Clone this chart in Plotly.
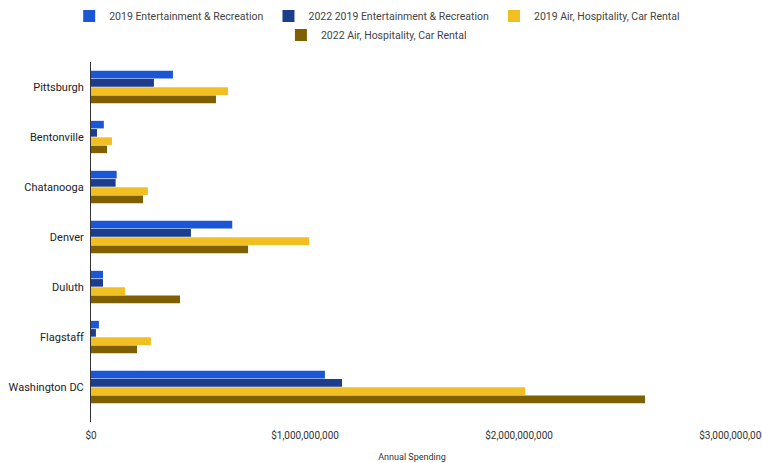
import plotly.graph_objects as go

cities = ["Pittsburgh", "Bentonville", "Chatanooga", "Denver", "Duluth", "Flagstaff", "Washington DC"]

ent_2019 = [383e6, 60e6, 120e6, 660e6, 56e6, 37e6, 1093e6]
ent_2022 = [294e6, 28e6, 115e6, 467e6, 56e6, 23e6, 1173e6]
air_2019 = [640e6, 98e6, 266e6, 1020e6, 159e6, 280e6, 2028e6]
air_2022 = [584e6, 75e6, 243e6, 734e6, 416e6, 215e6, 2589e6]

series = [
    ("2019 Entertainment & Recreation", ent_2019, "#1a56d6", "legend"),
    ("2022 2019 Entertainment & Recreation", ent_2022, "#1e3c8c", "legend"),
    ("2019 Air, Hospitality, Car Rental", air_2019, "#f1bf22", "legend"),
    ("2022 Air, Hospitality, Car Rental", air_2022, "#7f6000", "legend2"),
]

tick_vals = [0, 1e9, 2e9, 3e9]
tick_text = ["$0", "$1,000,000,000", "$2,000,000,000", "$3,000,000,000"]

fig = go.Figure()
for name, vals, color, leg in series:
    fig.add_trace(go.Bar(
        y=cities, x=vals, name=name, orientation="h",
        marker=dict(color=color, line=dict(width=0)),
        legend=leg,
    ))

legend_style = dict(
    orientation="h", xanchor="center", yanchor="middle",
    xref="container", yref="container",
    font=dict(family="Roboto, Arial, sans-serif", size=10.5, color="#444"),
    bgcolor="rgba(0,0,0,0)", itemclick=False, itemwidth=30,
)

fig.update_layout(
    width=762, height=463,
    margin=dict(l=91, r=29, t=62, b=41, autoexpand=False),
    paper_bgcolor="white", plot_bgcolor="white",
    barmode="group", bargap=0.34, bargroupgap=0.08,
    font=dict(family="Roboto, Arial, sans-serif", color="#222"),
    showlegend=True,
    legend=dict(x=0.495, y=1 - 16 / 463, **legend_style),
    legend2=dict(x=0.494, y=1 - 35 / 463, **legend_style),
    xaxis=dict(
        range=[0, 3e9], tickvals=tick_vals, ticktext=tick_text,
        showgrid=False, zeroline=False, showline=False, automargin=False,
        ticklabeloverflow="allow", ticklabelstandoff=6,
        tickfont=dict(size=10, color="#333"),
        title=dict(text="Annual Spending", font=dict(size=9, color="#333"), standoff=13),
    ),
    yaxis=dict(
        autorange=False, range=[6.7, -0.5],
        showgrid=False, zeroline=False, automargin=False,
        showline=True, linecolor="#333", linewidth=1,
        tickfont=dict(size=11, color="#222"), ticks="", ticklabelstandoff=4,
    ),
)

fig.write_html("out.html")
